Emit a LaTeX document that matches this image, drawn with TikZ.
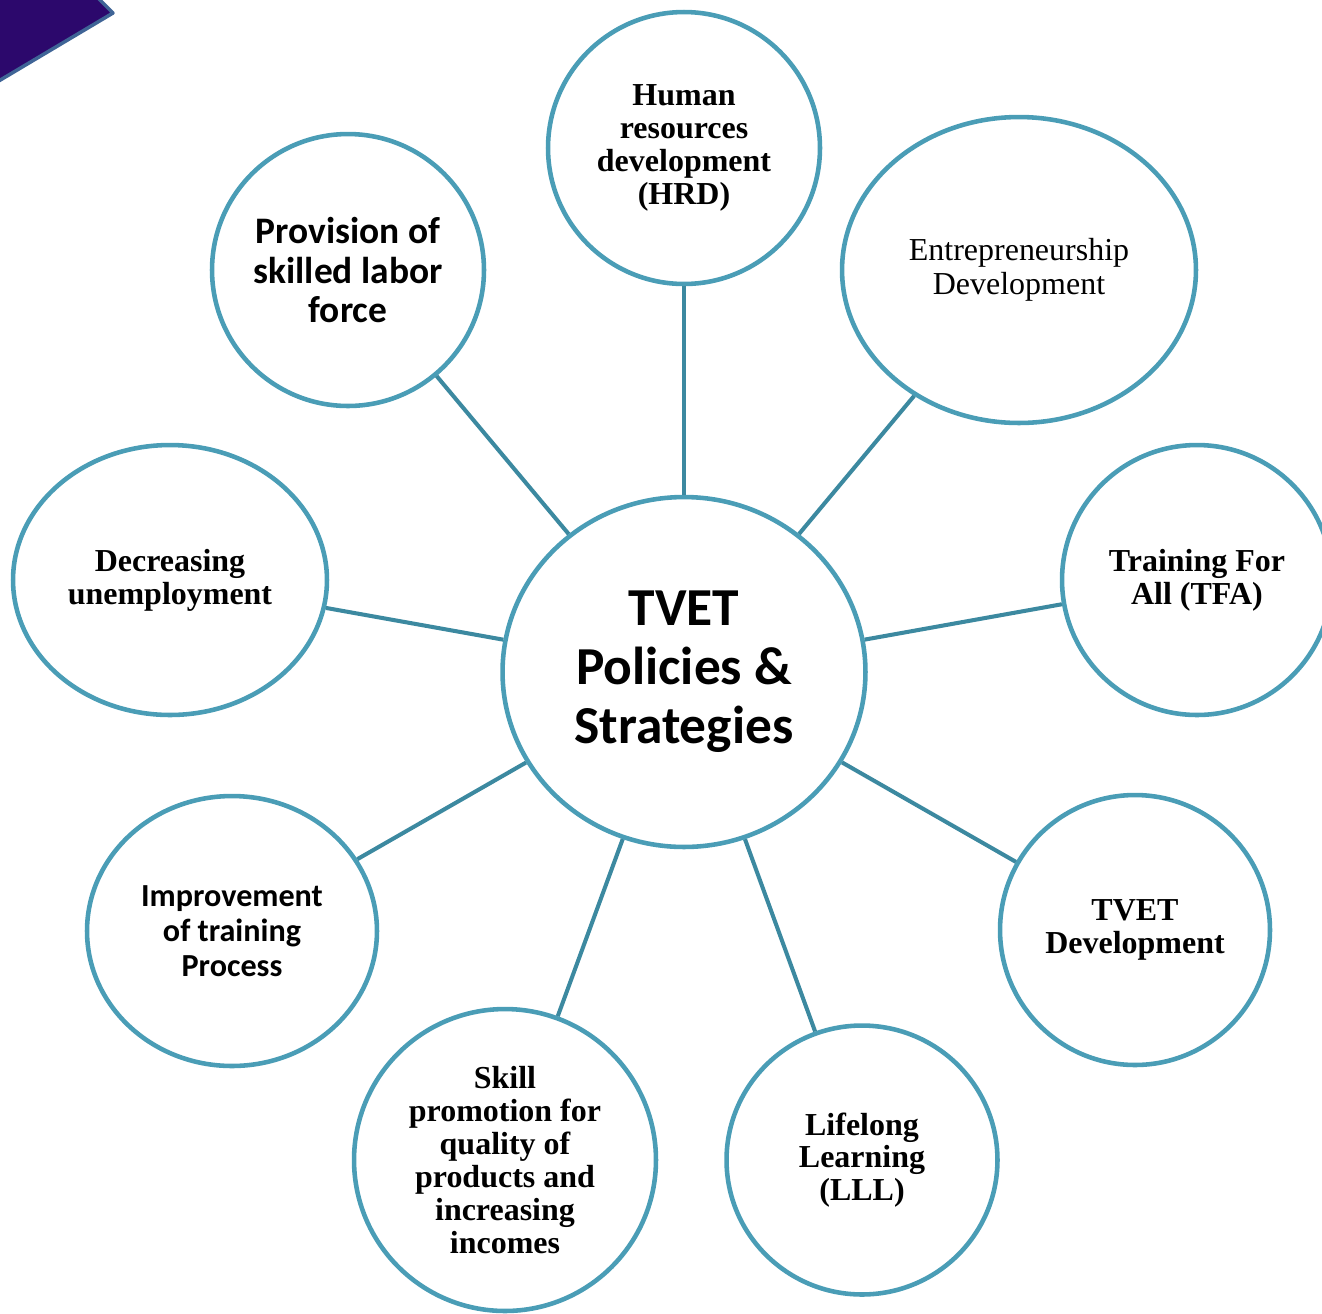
\documentclass[tikz,border=0pt]{standalone}
\usepackage{fontspec}
\setmainfont{Liberation Serif}
\newfontfamily\calibri{Carlito}
\usetikzlibrary{shapes.geometric}
\definecolor{ringblue}{RGB}{74,157,182}
\definecolor{spokeblue}{RGB}{60,137,160}
\definecolor{cornerpurple}{RGB}{44,8,108}
\definecolor{corneredge}{RGB}{63,100,150}
\begin{document}
\begin{tikzpicture}[x=0.02cm,y=-0.02cm,
	bubble/.style={draw=ringblue,line width=2.6pt,ellipse,inner sep=0pt,align=center,fill=white},
	spoke/.style={draw=spokeblue,line width=2.3pt},
	serifb/.style={font=\fontsize{18.2}{18.7}\selectfont\bfseries},
	calib/.style={font=\calibri\fontsize{18.3}{20.1}\selectfont\bfseries}]
	\useasboundingbox (0,0) rectangle (1322,1313);

	% Corner shape
	\begin{scope}
		\clip (0,0) rectangle (1322,1313);
		\filldraw[fill=cornerpurple,draw=corneredge,line width=2pt,line join=round]
			(-40,-30) -- (70,-30) -- (113,13) -- (-40,104) -- cycle;
	\end{scope}

	% Hub
	\node[bubble,minimum width=7.26cm,minimum height=7cm,
		font=\calibri\fontsize{30.4}{33.5}\selectfont\bfseries] (hub) at (684,672)
		{TVET\\Policies \&\\Strategies};

	% Outer bubbles
	\node[bubble,serifb,minimum width=5.44cm,minimum height=5.44cm] (hrd) at (684,148)
		{Human\\resources\\development\\(HRD)};
	\node[bubble,font=\fontsize{18.2}{19.2}\selectfont,minimum width=7.08cm,minimum height=6.12cm] (entre) at (1019,270)
		{Entrepreneurship\\Development};
	\node[bubble,serifb,minimum width=5.4cm,minimum height=5.4cm] (tfa) at (1197,580)
		{Training For\\All (TFA)};
	\node[bubble,serifb,minimum width=5.4cm,minimum height=5.4cm] (tvetdev) at (1135,930)
		{TVET\\Development};
	\node[bubble,serifb,minimum width=5.42cm,minimum height=5.38cm] (lll) at (862,1160)
		{Lifelong\\Learning\\(LLL)};
	\node[bubble,serifb,minimum width=6.04cm,minimum height=6.04cm] (skill) at (505,1160)
		{Skill\\promotion for\\quality of\\products and\\increasing\\incomes};
	\node[bubble,calib,minimum width=5.8cm,minimum height=5.4cm] (improve) at (232,931)
		{Improvement\\of training\\Process};
	\node[bubble,serifb,minimum width=6.28cm,minimum height=5.4cm] (unemploy) at (170,580)
		{Decreasing\\unemployment};
	\node[bubble,font=\calibri\fontsize{21.3}{22.7}\selectfont\bfseries,minimum width=5.44cm,minimum height=5.44cm] (labor) at (348,270)
		{Provision of\\skilled labor\\force};

	% Spokes
	\foreach \n in {hrd,entre,tfa,tvetdev,lll,skill,improve,unemploy,labor}
		\draw[spoke] (hub) -- (\n);
\end{tikzpicture}
\end{document}
